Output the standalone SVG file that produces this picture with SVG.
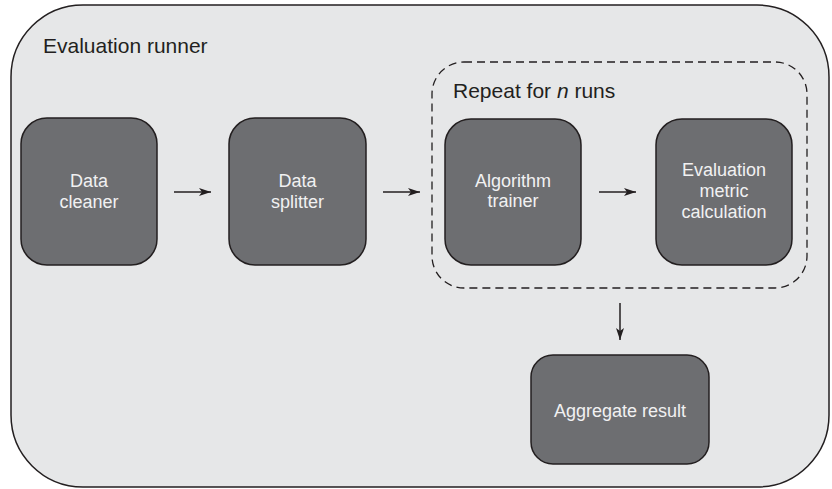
<svg xmlns="http://www.w3.org/2000/svg" width="832" height="489" viewBox="0 0 832 489">
<style>
.lbl{font-family:"Liberation Sans",Arial,sans-serif;font-size:21px;fill:#231f20}
.node rect{fill:#6d6e71;stroke:#231f20;stroke-width:1.5}
.node text{font-family:"Liberation Sans",Arial,sans-serif;font-size:18px;fill:#f1f1f2;text-anchor:middle}
.edge{stroke:#231f20;stroke-width:1.5;fill:none;marker-end:url(#ah)}
</style>
<defs>
<marker id="ah" viewBox="0 0 12 8" refX="12" refY="4" markerWidth="12" markerHeight="8" markerUnits="userSpaceOnUse" orient="auto">
<path d="M0,0 L12,4 L0,8 L3,4 Z" fill="#231f20"/>
</marker>
</defs>
<g id="evaluation-runner">
<rect x="11" y="5" width="818" height="482" rx="72" ry="72" fill="#e6e7e8" stroke="#231f20" stroke-width="1.5"/>
<text class="lbl" x="43" y="53">Evaluation runner</text>
</g>
<g id="repeat-group">
<rect x="432" y="62" width="375" height="226" rx="32" ry="32" fill="none" stroke="#231f20" stroke-width="1.3" stroke-dasharray="8 5"/>
<text class="lbl" x="453" y="98">Repeat for <tspan font-style="italic">n</tspan> runs</text>
</g>
<g id="data-cleaner" class="node">
<rect x="21" y="118" width="136" height="147" rx="26"/>
<text x="89" y="187">Data</text>
<text x="89" y="208">cleaner</text>
</g>
<g id="data-splitter" class="node">
<rect x="229" y="118" width="137" height="147" rx="26"/>
<text x="297.5" y="187">Data</text>
<text x="297.5" y="208">splitter</text>
</g>
<g id="algorithm-trainer" class="node">
<rect x="445" y="119" width="136" height="146" rx="26"/>
<text x="513" y="187">Algorithm</text>
<text x="513" y="207">trainer</text>
</g>
<g id="evaluation-metric" class="node">
<rect x="656" y="119" width="136" height="146" rx="26"/>
<text x="724" y="176">Evaluation</text>
<text x="724" y="197">metric</text>
<text x="724" y="218">calculation</text>
</g>
<g id="aggregate-result" class="node">
<rect x="531" y="355" width="178" height="109" rx="22"/>
<text x="620" y="417">Aggregate result</text>
</g>
<g id="connectors">
<line class="edge" x1="174" y1="192" x2="211" y2="192"/>
<line class="edge" x1="383" y1="192" x2="420" y2="192"/>
<line class="edge" x1="599" y1="192" x2="636" y2="192"/>
<line class="edge" x1="620" y1="303" x2="620" y2="340"/>
</g>
</svg>
